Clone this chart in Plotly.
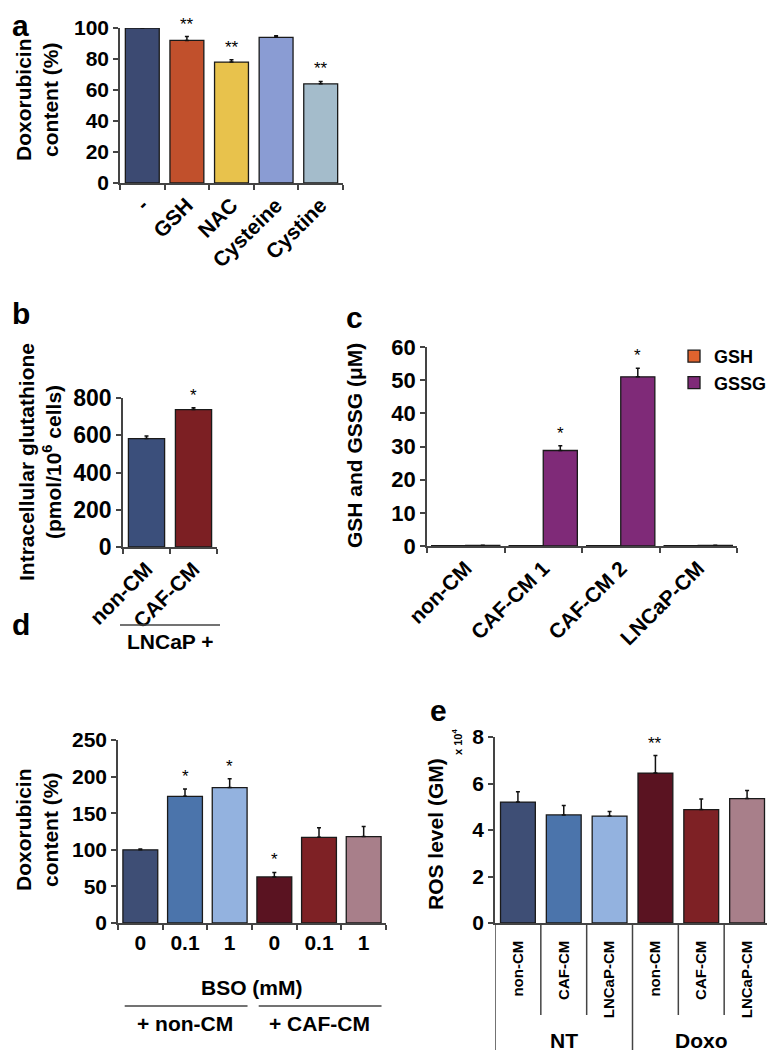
import plotly.graph_objects as go

# Panel a
a_cats = ["-", "GSH", "NAC", "Cysteine", "Cystine"]
a_vals = [100, 92, 78, 94, 64]
a_err = [0.5, 2.5, 1.5, 1.0, 1.5]
a_sig = ["", "**", "**", "", "**"]
a_colors = ["#3c4a72", "#c1502c", "#e8c24c", "#8a9cd3", "#a4bccb"]

# Panel b
b_cats = ["non-CM", "CAF-CM"]
b_vals = [582, 738]
b_err = [14, 10]
b_sig = ["", "*"]
b_colors = ["#3b4f7b", "#7c1f23"]

# Panel c
c_cats = ["non-CM", "CAF-CM 1", "CAF-CM 2", "LNCaP-CM"]
c_gsh = [0.1, 0.1, 0.1, 0.1]
c_gssg = [0.2, 28.8, 51.0, 0.2]
c_gssg_err = [0, 1.4, 2.6, 0]
c_sig = ["", "*", "*", ""]

# Panel d
d_ticks = ["0", "0.1", "1", "0", "0.1", "1"]
d_vals = [100, 173, 185, 63, 117, 118]
d_err = [1, 10, 12, 6, 13, 14]
d_sig = ["", "*", "*", "*", "", ""]
d_groups = ["+ non-CM", "+ CAF-CM"]

# Panel e
e_ticks = ["non-CM", "CAF-CM", "LNCaP-CM", "non-CM", "CAF-CM", "LNCaP-CM"]
e_vals = [5.2, 4.65, 4.6, 6.45, 4.88, 5.35]
e_err = [0.45, 0.4, 0.2, 0.75, 0.45, 0.35]
e_sig = ["", "", "", "**", "", ""]
e_groups = ["NT", "Doxo"]

de_colors = ["#3e4e75", "#4b74ab", "#93b2df", "#5a1321", "#7e2125", "#a87f8a"]

# the page body adds an 8px offset, so the figure is drawn 8px smaller
OFF = 8
W, H = 775 - OFF, 1059 - OFF
FONT = "Arial, Liberation Sans, sans-serif"


def px(x):
    return (x - OFF) / W


def py(y):
    return 1 - (y - OFF) / H


def err_bar(err):
    return dict(type="data", array=err, arrayminus=[0] * len(err), symmetric=False,
                color="#111", thickness=1.5, width=2)


fig = go.Figure()
outline = dict(color="#1a1a1a", width=1.3)

fig.add_trace(go.Bar(x=list(range(len(a_cats))), y=a_vals, error_y=err_bar(a_err), width=0.76,
                     marker=dict(color=a_colors, line=outline), xaxis="x", yaxis="y", showlegend=False))
fig.add_trace(go.Bar(x=list(range(len(b_cats))), y=b_vals, error_y=err_bar(b_err), width=0.77,
                     marker=dict(color=b_colors, line=outline), xaxis="x2", yaxis="y2", showlegend=False))
fig.add_trace(go.Bar(x=list(range(len(c_cats))), y=c_gsh, width=0.44, offset=-0.44, name="GSH",
                     marker=dict(color="#e0632e", line=outline), xaxis="x3", yaxis="y3"))
fig.add_trace(go.Bar(x=list(range(len(c_cats))), y=c_gssg, error_y=err_bar(c_gssg_err), width=0.44, offset=0,
                     name="GSSG", marker=dict(color="#7f2a78", line=outline), xaxis="x3", yaxis="y3"))
fig.add_trace(go.Bar(x=list(range(len(d_ticks))), y=d_vals, error_y=err_bar(d_err), width=0.78,
                     marker=dict(color=de_colors, line=outline), xaxis="x4", yaxis="y4", showlegend=False))
fig.add_trace(go.Bar(x=list(range(len(e_ticks))), y=e_vals, error_y=err_bar(e_err), width=0.76,
                     marker=dict(color=de_colors, line=outline), xaxis="x5", yaxis="y5", showlegend=False))

base_ax = dict(showline=True, linecolor="#444", linewidth=1.5, showgrid=False, zeroline=False,
               tickcolor="#444", tickwidth=1.5, ticklen=5, fixedrange=True)


def yax(dom, rng, dtick, fs, anchor):
    return dict(base_ax, domain=dom, range=rng, dtick=dtick, ticks="outside", anchor=anchor,
                tickfont=dict(family=FONT, size=fs, color="black", weight="bold"))


def xax(dom, labels, angle, fs, anchor, ticks=True):
    d = dict(base_ax, domain=dom, range=[-0.5, len(labels) - 0.5], anchor=anchor,
             tickmode="array", tickvals=list(range(len(labels))), ticktext=labels,
             ticks="", tickangle=angle,
             tickfont=dict(family=FONT, size=fs, color="black", weight="bold"))
    if ticks:
        d["minor"] = dict(tick0=-0.5, dtick=1, ticks="outside", ticklen=5,
                          tickcolor="#444", tickwidth=1.5, showgrid=False)
    return d


fig.update_layout(
    width=W, height=H, margin=dict(l=0, r=0, t=0, b=0, autoexpand=False),
    paper_bgcolor="white", plot_bgcolor="white", barmode="overlay",
    font=dict(family=FONT, color="black"),
    xaxis=xax([px(120), px(343)], a_cats, -45, 21, "y"),
    yaxis=yax([py(183), py(28)], [0, 100], 20, 21, "x"),
    xaxis2=xax([px(123), px(217)], b_cats, -45, 21, "y2"),
    yaxis2=yax([py(547), py(398)], [0, 800], 200, 23, "x2"),
    xaxis3=xax([px(427), px(737)], c_cats, -45, 21, "y3"),
    yaxis3=yax([py(546), py(347)], [0, 60], 10, 22, "x3"),
    xaxis4=xax([px(118), px(386)], d_ticks, 0, 21, "y4"),
    yaxis4=yax([py(923), py(740)], [0, 250], 50, 21, "x4"),
    xaxis5=xax([px(495), px(770)], e_ticks, -90, 15, "y5", ticks=False),
    yaxis5=yax([py(923), py(737)], [0, 8], 2, 21, "x5"),
    legend=dict(x=px(674), y=py(338), xanchor="left", yanchor="top", bgcolor="rgba(0,0,0,0)",
                font=dict(family=FONT, size=18, weight="bold"), itemwidth=30, tracegroupgap=4),
)
fig.update_xaxes(ticklabelstandoff=10, selector=dict(anchor="y5"))

ann = []
shapes = []


def label(text, x, y, size=21, angle=0, bold=True):
    ann.append(dict(text=text, x=x, y=y, xref="paper", yref="paper", showarrow=False,
                    xanchor="center", yanchor="middle", textangle=angle,
                    font=dict(family=FONT, size=size, color="black",
                              weight="bold" if bold else "normal")))


# panel letters
for letter, lx, ly in [("a", 20, 26), ("b", 21, 313), ("c", 354, 318), ("d", 21, 624), ("e", 438, 710)]:
    label(letter, px(lx), py(ly), size=30)

# y titles
label("Doxorubicin<br>content (%)", px(37), py(100), angle=-90)
label("Intracellular glutathione<br>(pmol/10<sup>6</sup> cells)", px(40), py(462), size=21, angle=-90)
label("GSH and GSSG (μM)", px(355), py(446), angle=-90)
label("Doxorubicin<br>content (%)", px(37), py(830), angle=-90)
label("ROS level (GM)", px(435), py(834), angle=-90)
label("x 10<sup>4</sup>", px(457), py(742), size=11, angle=-90)


# significance stars
def stars(sig, vals, err, xref, yref, dx=0.0):
    for i, s in enumerate(sig):
        if s:
            ann.append(dict(text=s, x=i + dx, y=vals[i] + err[i], xref=xref, yref=yref,
                            showarrow=False, xanchor="center", yanchor="bottom", yshift=1,
                            font=dict(family=FONT, size=17, color="black")))


stars(a_sig, a_vals, a_err, "x", "y")
stars(b_sig, b_vals, b_err, "x2", "y2")
stars(c_sig, c_gssg, c_gssg_err, "x3", "y3", dx=0.22)
stars(d_sig, d_vals, d_err, "x4", "y4")
stars(e_sig, e_vals, e_err, "x5", "y5")

# panel b group
shapes.append(dict(type="line", xref="paper", yref="paper", x0=px(120), x1=px(220), y0=py(625), y1=py(625),
                   line=dict(color="#444", width=1.5)))
label("LNCaP +", px(170), py(641))

# panel d groups
label("BSO (mM)", px(252), py(987))
for gi, g in enumerate(d_groups):
    shapes.append(dict(type="line", xref="x4", yref="paper", x0=gi * 3 - 0.35, x1=gi * 3 + 2.4,
                       y0=py(1006), y1=py(1006), line=dict(color="#444", width=1.5)))
    ann.append(dict(text=g, x=gi * 3 + 1, y=py(1023), xref="x4", yref="paper", showarrow=False,
                    xanchor="center", yanchor="middle",
                    font=dict(family=FONT, size=21, color="black", weight="bold")))

# panel e separators and groups
for k in range(len(e_ticks) + 1):
    long_line = k % 3 == 0
    shapes.append(dict(type="line", xref="x5", yref="paper", x0=k - 0.5, x1=k - 0.5,
                       y0=py(923), y1=py(1050 if long_line else 1015),
                       line=dict(color="#444", width=1.5)))
for gi, g in enumerate(e_groups):
    ann.append(dict(text=g, x=gi * 3 + 1, y=py(1040), xref="x5", yref="paper", showarrow=False,
                    xanchor="center", yanchor="middle",
                    font=dict(family=FONT, size=21, color="black", weight="bold")))

fig.update_layout(annotations=ann, shapes=shapes)
fig.write_html("out.html")
